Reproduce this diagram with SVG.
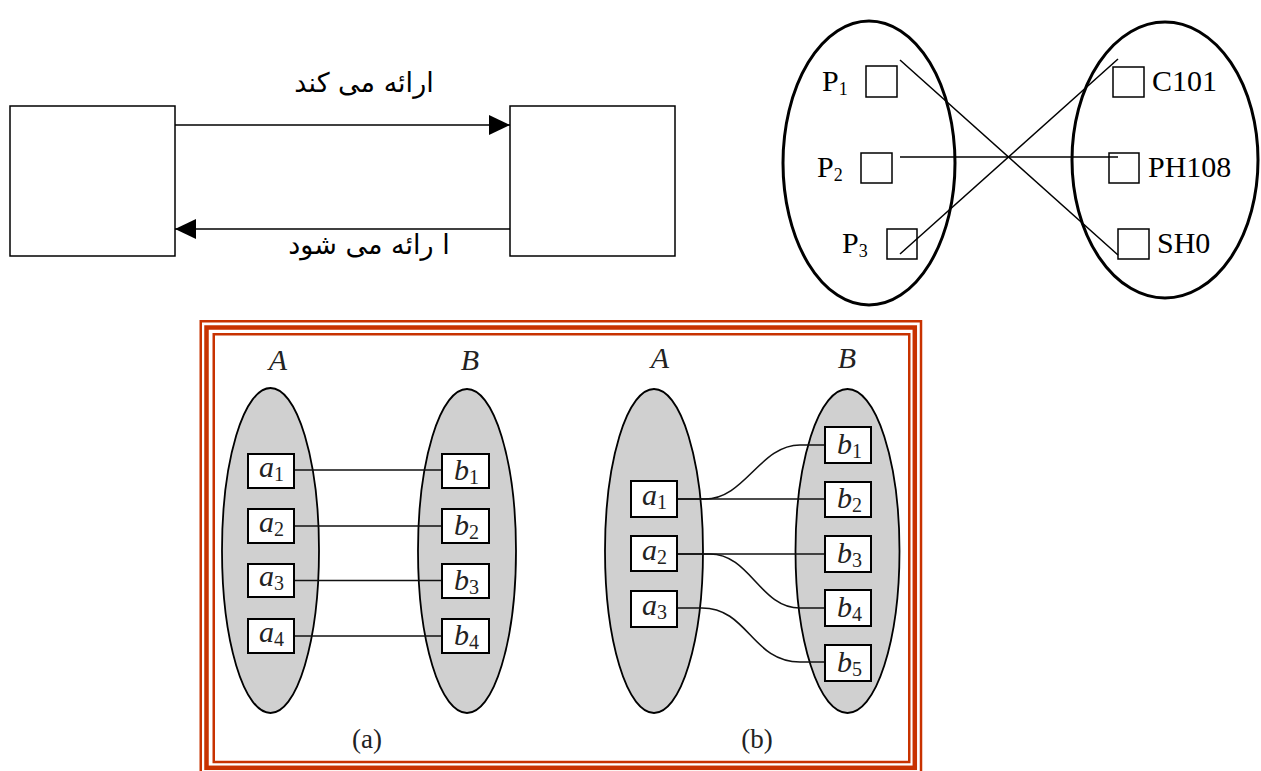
<svg xmlns="http://www.w3.org/2000/svg" width="1261" height="771" viewBox="0 0 1261 771">
<style>
.box{fill:#fff;stroke:#000;stroke-width:1.5}
.ln{stroke:#000;stroke-width:1.5;fill:none}
.fa{font-family:"DejaVu Sans",sans-serif;font-size:27px;fill:#000}
.big{fill:none;stroke:#000;stroke-width:3}
.sq{fill:#fff;stroke:#000;stroke-width:1.5}
.tr{font-family:"Liberation Serif",serif;font-size:30px;fill:#000}
.sub{font-size:18px}
.el{fill:#d0d0d0;stroke:#000;stroke-width:1.8}
.nb{fill:#fff;stroke:#000;stroke-width:2}
.it{font-family:"Liberation Serif",serif;font-style:italic;font-size:30px;fill:#222}
.nsub{font-style:normal;font-size:20px}
.cap{font-family:"Liberation Serif",serif;font-size:27px;fill:#222}
.c2{stroke:#111;stroke-width:1.6;fill:none}
.fr{fill:none;stroke:#C83200}
</style>
<defs>
<marker id="ah" markerWidth="21" markerHeight="20" refX="21" refY="10" orient="auto" markerUnits="userSpaceOnUse">
<path d="M0,0 L21,10 L0,20 Z" fill="#000"/>
</marker>
</defs>
<rect width="1261" height="771" fill="#fff"/>

<!-- Top-left diagram -->
<g id="boxL"><rect class="box" x="10" y="106" width="165" height="150"/></g>
<g id="boxR"><rect class="box" x="510" y="106" width="165" height="150"/></g>
<g id="conn1">
<line class="ln" x1="175" y1="125" x2="510" y2="125" marker-end="url(#ah)"/>
<line class="ln" x1="510" y1="229" x2="175" y2="229" marker-end="url(#ah)"/>
</g>
<text class="fa" x="364" y="92" text-anchor="middle" direction="rtl">ارائه می کند</text>
<text class="fa" x="369" y="254" text-anchor="middle" direction="rtl">ا رائه می شود</text>

<!-- Top-right diagram -->
<g id="setP">
<ellipse class="big" cx="869" cy="163" rx="86" ry="142"/>
<g id="p1"><rect class="sq" x="866" y="66" width="31" height="31"/><text class="tr" x="822" y="91">P<tspan class="sub" dy="4">1</tspan></text></g>
<g id="p2"><rect class="sq" x="861" y="153" width="31" height="30"/><text class="tr" x="817" y="177">P<tspan class="sub" dy="4">2</tspan></text></g>
<g id="p3"><rect class="sq" x="887" y="229" width="30" height="30"/><text class="tr" x="842" y="253">P<tspan class="sub" dy="4">3</tspan></text></g>
</g>
<g id="setC">
<ellipse class="big" cx="1165" cy="160" rx="93" ry="138"/>
<g id="c101"><rect class="sq" x="1113" y="67" width="31" height="30"/><text class="tr" x="1152" y="91">C101</text></g>
<g id="ph108"><rect class="sq" x="1109" y="153" width="30" height="30"/><text class="tr" x="1148" y="177">PH108</text></g>
<g id="sh0"><rect class="sq" x="1118" y="229" width="31" height="30"/><text class="tr" x="1157" y="253">SH0</text></g>
</g>
<g id="conn2">
<line class="ln" x1="900" y1="60" x2="1118" y2="255"/>
<line class="ln" x1="900" y1="157" x2="1118" y2="157"/>
<line class="ln" x1="900" y1="254" x2="1118" y2="59"/>
</g>

<!-- Bottom framed figure -->
<rect class="fr" stroke-width="2.5" x="200.75" y="321.25" width="720.25" height="452"/>
<rect class="fr" stroke-width="4.5" x="206.5" y="327.5" width="708.3" height="440.3"/>
<rect class="fr" stroke-width="2.5" x="213.75" y="334.25" width="695.5" height="427.75"/>

<!-- (a) -->
<text class="it" x="278" y="370" text-anchor="middle">A</text>
<text class="it" x="470" y="370" text-anchor="middle">B</text>
<g id="aA"><ellipse class="el" cx="270.5" cy="550.5" rx="48.5" ry="162.5"/></g>
<g id="aB"><ellipse class="el" cx="467" cy="551" rx="49" ry="162"/></g>
<g id="conn3">
<line class="c2" x1="294" y1="470" x2="442" y2="470"/>
<line class="c2" x1="294" y1="526" x2="442" y2="526"/>
<line class="c2" x1="294" y1="580.5" x2="442" y2="580.5"/>
<line class="c2" x1="294" y1="636" x2="442" y2="636"/>
</g>
<g id="a_a1"><rect class="nb" x="248" y="454" width="46" height="34"/><text class="it" x="259" y="477">a<tspan class="nsub" dy="4">1</tspan></text></g>
<g id="a_a2"><rect class="nb" x="248" y="509" width="46" height="34"/><text class="it" x="259" y="532">a<tspan class="nsub" dy="4">2</tspan></text></g>
<g id="a_a3"><rect class="nb" x="248" y="564" width="46" height="33"/><text class="it" x="259" y="586">a<tspan class="nsub" dy="4">3</tspan></text></g>
<g id="a_a4"><rect class="nb" x="248" y="619" width="46" height="34"/><text class="it" x="259" y="642">a<tspan class="nsub" dy="4">4</tspan></text></g>
<g id="a_b1"><rect class="nb" x="442" y="454" width="47" height="34"/><text class="it" x="454" y="480">b<tspan class="nsub" dy="4">1</tspan></text></g>
<g id="a_b2"><rect class="nb" x="442" y="509" width="47" height="34"/><text class="it" x="454" y="535">b<tspan class="nsub" dy="4">2</tspan></text></g>
<g id="a_b3"><rect class="nb" x="442" y="564" width="47" height="34"/><text class="it" x="454" y="590">b<tspan class="nsub" dy="4">3</tspan></text></g>
<g id="a_b4"><rect class="nb" x="442" y="619" width="47" height="34"/><text class="it" x="454" y="645">b<tspan class="nsub" dy="4">4</tspan></text></g>
<text class="cap" x="367" y="748" text-anchor="middle">(a)</text>

<!-- (b) -->
<text class="it" x="660" y="368" text-anchor="middle">A</text>
<text class="it" x="847" y="368" text-anchor="middle">B</text>
<g id="bA"><ellipse class="el" cx="654" cy="551" rx="49" ry="162"/></g>
<g id="bB"><ellipse class="el" cx="847.5" cy="551" rx="52" ry="162"/></g>
<g id="conn4">
<line class="c2" x1="677" y1="499" x2="825" y2="499"/>
<path class="c2" d="M677,499 L705,499 C745,499 760,445 800,445 L825,445"/>
<line class="c2" x1="677" y1="554" x2="825" y2="554"/>
<path class="c2" d="M677,554 L710,554 C750,554 760,608 800,608 L825,608"/>
<path class="c2" d="M677,608 L702,608 C748,608 752,662 800,662 L825,662"/>
</g>
<g id="b_a1"><rect class="nb" x="631" y="481" width="46" height="36"/><text class="it" x="642" y="505">a<tspan class="nsub" dy="4">1</tspan></text></g>
<g id="b_a2"><rect class="nb" x="631" y="536" width="46" height="35"/><text class="it" x="642" y="560">a<tspan class="nsub" dy="4">2</tspan></text></g>
<g id="b_a3"><rect class="nb" x="631" y="591" width="46" height="36"/><text class="it" x="642" y="615">a<tspan class="nsub" dy="4">3</tspan></text></g>
<g id="b_b1"><rect class="nb" x="825" y="427" width="46" height="36"/><text class="it" x="837" y="454">b<tspan class="nsub" dy="4">1</tspan></text></g>
<g id="b_b2"><rect class="nb" x="825" y="482" width="46" height="35"/><text class="it" x="837" y="508">b<tspan class="nsub" dy="4">2</tspan></text></g>
<g id="b_b3"><rect class="nb" x="825" y="536" width="46" height="36"/><text class="it" x="837" y="563">b<tspan class="nsub" dy="4">3</tspan></text></g>
<g id="b_b4"><rect class="nb" x="825" y="590" width="46" height="36"/><text class="it" x="837" y="617">b<tspan class="nsub" dy="4">4</tspan></text></g>
<g id="b_b5"><rect class="nb" x="825" y="645" width="46" height="36"/><text class="it" x="837" y="672">b<tspan class="nsub" dy="4">5</tspan></text></g>
<text class="cap" x="757" y="748" text-anchor="middle">(b)</text>
</svg>
